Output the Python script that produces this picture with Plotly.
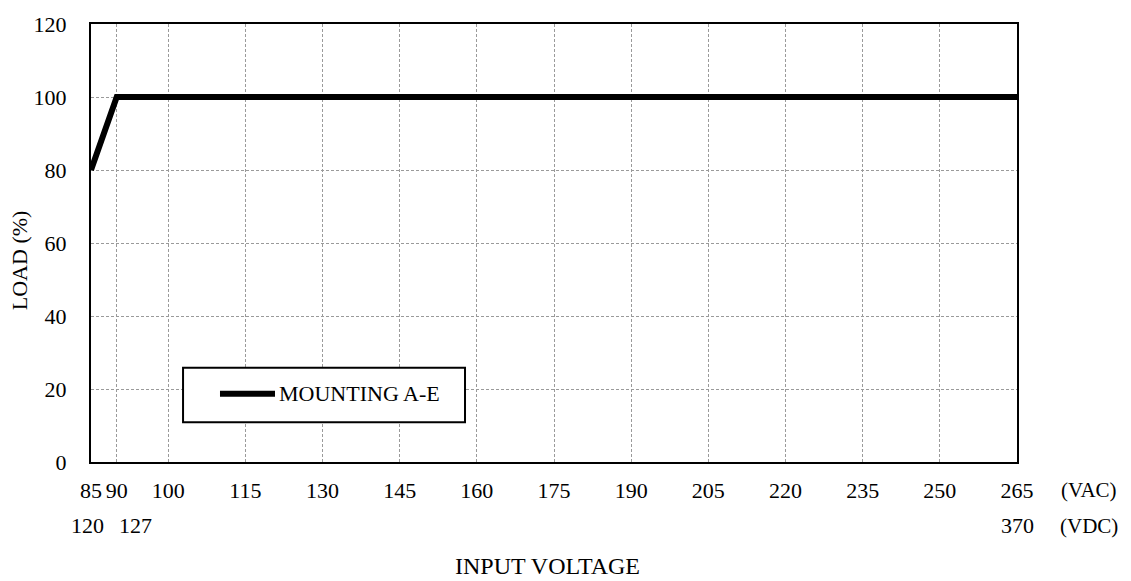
import plotly.graph_objects as go

# Data
vac_ticks = [85, 90, 100, 115, 130, 145, 160, 175, 190, 205, 220, 235, 250, 265]
vdc_ticks = [85, 90, 265]          # VAC positions of DC labels
vdc_labels = ["120", "127", "370"]
load_ticks = [0, 20, 40, 60, 80, 100, 120]
series_x = [85, 90, 265]
series_y = [80, 100, 100]
series_name = "MOUNTING A-E"

FONT = "Liberation Serif, Times New Roman, serif"
FS = 22
vdc_shift = [-4, 19, 0]   # label offsets in px (layout only)

fig = go.Figure()
fig.add_trace(go.Scatter(x=series_x, y=series_y, mode="lines", name=series_name,
                         line=dict(color="black", width=6), showlegend=False,
                         cliponaxis=False, hoverinfo="skip"))

grid = dict(showgrid=True, gridcolor="#9a9a9a", gridwidth=1, griddash="3px,2px",
            showline=True, linecolor="black", linewidth=2, mirror=True,
            zeroline=False, ticks="", tickfont=dict(family=FONT, size=FS, color="black"))

fig.update_xaxes(range=[85, 265], tickmode="array", tickvals=vac_ticks,
                 ticktext=[str(v) for v in vac_ticks], ticklabelstandoff=8, **grid)
fig.update_yaxes(range=[0, 120], tickmode="array", tickvals=load_ticks,
                 ticktext=[str(v) for v in load_ticks], ticklabelstandoff=18, **grid)

ann = []
for v, t, s in zip(vdc_ticks, vdc_labels, vdc_shift):
    ann.append(dict(x=v, y=-0.145, xref="x", yref="paper", text=t, showarrow=False,
                    xshift=s, xanchor="center",
                    font=dict(family=FONT, size=FS, color="black"), yanchor="middle"))
ann.append(dict(x=1.078, y=-0.063, xref="paper", yref="paper", text="(VAC)",
                showarrow=False, xanchor="center", font=dict(family=FONT, size=21, color="black"),
                yanchor="middle"))
ann.append(dict(x=1.078, y=-0.145, xref="paper", yref="paper", text="(VDC)",
                showarrow=False, xanchor="center", font=dict(family=FONT, size=21, color="black"),
                yanchor="middle"))
ann.append(dict(x=0.4935, y=-0.238, xref="paper", yref="paper", text="INPUT VOLTAGE",
                showarrow=False, xanchor="center", font=dict(family=FONT, size=24, color="black"),
                yanchor="middle"))
ann.append(dict(x=-0.077, y=0.46, xref="paper", yref="paper", text="LOAD (%)",
                showarrow=False, textangle=-90, font=dict(family=FONT, size=FS, color="black"),
                xanchor="center", yanchor="middle"))
# legend (manual)
ann.append(dict(x=0.2009, y=0.156, xref="paper", yref="paper", text=series_name,
                showarrow=False, xanchor="left", yanchor="middle",
                font=dict(family=FONT, size=FS, color="black")))

shapes = [
    dict(type="rect", xref="paper", yref="paper", x0=0.0994, x1=0.4039, y0=0.0905, y1=0.215,
         line=dict(color="black", width=2), fillcolor="white", layer="above"),
    dict(type="line", xref="paper", yref="paper", x0=0.1393, x1=0.1987, y0=0.156, y1=0.156,
         line=dict(color="black", width=6), layer="above"),
]

fig.update_layout(width=1131, height=581, margin=dict(l=91, r=114, t=20, b=119),
                  plot_bgcolor="white", paper_bgcolor="white",
                  font=dict(family=FONT, size=FS, color="black"),
                  annotations=ann, shapes=shapes, showlegend=False, hovermode=False)
fig.write_html("out.html", config={"displayModeBar": False, "staticPlot": True},
               post_script="document.body.style.margin='0';")
